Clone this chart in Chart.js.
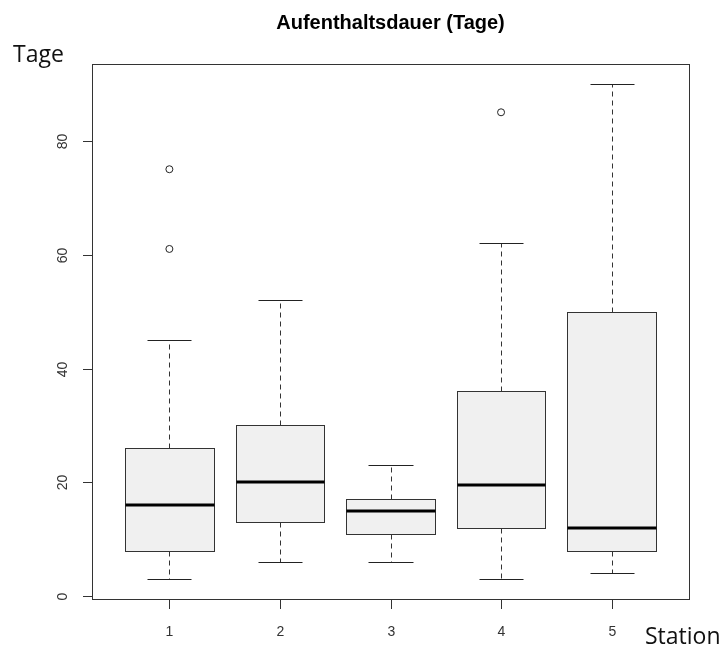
<!DOCTYPE html>
<html>
<head>
<meta charset="utf-8">
<script src="https://cdn.jsdelivr.net/npm/chart.js@4"></script>
<style>
  body { margin: 0; background: #fff; }
  #box { display: block; }
</style>
</head>
<body>
<canvas id="box" width="727" height="648"></canvas>
<script>
const stations = ['1', '2', '3', '4', '5'];
const whiskerLow = [3, 6, 6, 3, 4];
const q1 = [8, 13, 11, 12, 8];
const median = [16, 20, 15, 19.5, 12];
const q3 = [26, 30, 17, 36, 50];
const whiskerHigh = [45, 52, 23, 62, 90];
const outlierStation = [1, 1, 4];
const outlierValue = [61, 75, 85];
const yTicks = [0, 20, 40, 60, 80];

const titleText = 'Aufenthaltsdauer (Tage)';
const yTitle = 'Tage';
const xTitle = 'Station';

function crisp(v) { return Math.round(v) + 0.5; }

const boxplotPlugin = {
  id: 'boxplot',
  beforeDatasetsDraw(chart) {
    const ctx = chart.ctx;
    const x = chart.scales.x, y = chart.scales.y;
    ctx.save();
    stations.forEach((s, i) => {
      const c = i + 1;
      const left = crisp(x.getPixelForValue(c - 0.4));
      const right = crisp(x.getPixelForValue(c + 0.4));
      const mid = crisp(x.getPixelForValue(c));
      const capL = crisp(x.getPixelForValue(c - 0.2));
      const capR = crisp(x.getPixelForValue(c + 0.2));
      const yLo = crisp(y.getPixelForValue(whiskerLow[i]));
      const yQ1 = crisp(y.getPixelForValue(q1[i]));
      const yMed = y.getPixelForValue(median[i]);
      const yQ3 = crisp(y.getPixelForValue(q3[i]));
      const yHi = crisp(y.getPixelForValue(whiskerHigh[i]));

      // whiskers, dashed
      ctx.strokeStyle = '#333';
      ctx.lineWidth = 1;
      ctx.setLineDash([5, 4]);
      ctx.beginPath();
      ctx.moveTo(mid, yQ3); ctx.lineTo(mid, yHi);
      ctx.moveTo(mid, yQ1); ctx.lineTo(mid, yLo);
      ctx.stroke();
      ctx.setLineDash([]);

      // staples
      ctx.strokeStyle = '#222';
      ctx.beginPath();
      ctx.moveTo(capL, yHi); ctx.lineTo(capR, yHi);
      ctx.moveTo(capL, yLo); ctx.lineTo(capR, yLo);
      ctx.stroke();

      // box
      ctx.fillStyle = '#f0f0f0';
      ctx.fillRect(left, yQ3, right - left, yQ1 - yQ3);
      ctx.strokeStyle = '#333';
      ctx.strokeRect(left, yQ3, right - left, yQ1 - yQ3);

      // median
      ctx.strokeStyle = '#000';
      ctx.lineWidth = 3;
      ctx.beginPath();
      ctx.moveTo(left, Math.round(yMed)); ctx.lineTo(right, Math.round(yMed));
      ctx.stroke();
    });
    ctx.restore();
  },
  afterDraw(chart) {
    const ctx = chart.ctx;
    const a = chart.chartArea;
    const x = chart.scales.x, y = chart.scales.y;
    ctx.save();
    ctx.strokeStyle = '#333';
    ctx.lineWidth = 1;
    ctx.strokeRect(crisp(a.left), crisp(a.top), Math.round(a.right - a.left), Math.round(a.bottom - a.top));

    // y ticks
    ctx.fillStyle = '#333';
    ctx.font = '14px "Liberation Sans", Arial, sans-serif';
    yTicks.forEach(v => {
      const py = crisp(y.getPixelForValue(v));
      ctx.beginPath();
      ctx.moveTo(a.left - 9, py); ctx.lineTo(a.left, py);
      ctx.stroke();
      ctx.save();
      ctx.translate(a.left - 29, py);
      ctx.rotate(-Math.PI / 2);
      ctx.textAlign = 'center';
      ctx.textBaseline = 'middle';
      ctx.fillText(String(v), 0, 0);
      ctx.restore();
    });

    // x ticks
    stations.forEach((s, i) => {
      const px = crisp(x.getPixelForValue(i + 1));
      ctx.beginPath();
      ctx.moveTo(px, a.bottom); ctx.lineTo(px, a.bottom + 10);
      ctx.stroke();
      ctx.textAlign = 'center';
      ctx.textBaseline = 'middle';
      ctx.fillText(s, px, a.bottom + 33);
    });

    // title
    ctx.fillStyle = '#000';
    ctx.font = 'bold 20px "Liberation Sans", Arial, sans-serif';
    ctx.textAlign = 'center';
    ctx.textBaseline = 'middle';
    ctx.fillText(titleText, (a.left + a.right) / 2, 23);

    // axis titles
    ctx.font = '23px "Open Sans", "Noto Sans", sans-serif';
    ctx.textAlign = 'left';
    ctx.textBaseline = 'alphabetic';
    ctx.fillStyle = '#111';
    ctx.fillText(yTitle, 13, 62);
    ctx.fillText(xTitle, 645, 644);
    ctx.restore();
  }
};

window.onload = () => {
  new Chart(document.getElementById('box'), {
    type: 'scatter',
    data: {
      datasets: [{
        label: 'Ausreißer',
        data: outlierStation.map((s, i) => ({ x: s, y: outlierValue[i] })),
        pointRadius: 3.5,
        pointBorderWidth: 1,
        pointBorderColor: '#222',
        pointBackgroundColor: '#fff'
      }]
    },
    options: {
      responsive: false,
      animation: false,
      layout: { padding: { left: 92, right: 38, top: 64, bottom: 49 } },
      scales: {
        x: { type: 'linear', min: 0.3, max: 5.7, display: false },
        y: { type: 'linear', min: -0.48, max: 93.48, display: false }
      },
      plugins: {
        legend: { display: false },
        tooltip: { enabled: false }
      }
    },
    plugins: [boxplotPlugin]
  });
};
</script>
</body>
</html>
